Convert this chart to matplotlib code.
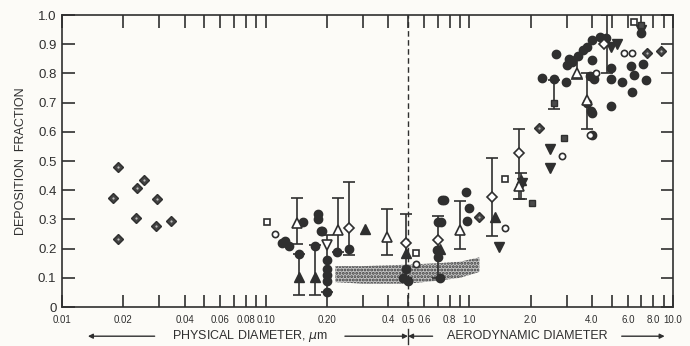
import numpy as np
import matplotlib
matplotlib.use('Agg')
import matplotlib.pyplot as plt

plt.rcParams['font.family'] = ['Liberation Sans', 'DejaVu Sans']

# --- data (x = diameter, um; y = deposition fraction) ---
dotdia_x = [0.0188, 0.0178, 0.0188, 0.0233, 0.0252, 0.0230, 0.0292, 0.0289, 0.0342, 1.12, 2.20, 7.46, 8.72]
dotdia_y = [0.48, 0.375, 0.233, 0.407, 0.435, 0.305, 0.37, 0.277, 0.295, 0.308, 0.613, 0.87, 0.877]

fcirc_x = [0.125, 0.13, 0.12, 0.152, 0.18, 0.18, 0.187, 0.19, 0.174, 0.145,
           0.20, 0.20, 0.20, 0.20, 0.20, 0.225, 0.258, 0.49, 0.47, 0.50,
           0.738, 0.70, 0.73, 0.69, 0.70, 0.72, 0.75, 0.967, 1.0, 0.97,
           2.67, 2.28, 2.61, 2.99, 3.0, 3.1, 3.2, 4.01, 3.9, 4.1, 3.95, 4.0,
           4.97, 4.97, 5.6, 6.3, 7.38, 7.13, 6.2, 6.4, 4.97, 4.0, 3.8,
           3.8, 4.0, 4.4, 4.7, 7.0, 3.4, 3.6]
fcirc_y = [0.225, 0.21, 0.22, 0.29, 0.32, 0.30, 0.26, 0.26, 0.21, 0.18,
           0.16, 0.13, 0.11, 0.09, 0.05, 0.19, 0.20, 0.13, 0.10, 0.09,
           0.366, 0.29, 0.29, 0.195, 0.17, 0.10, 0.366, 0.394, 0.34, 0.295,
           0.866, 0.784, 0.78, 0.77, 0.83, 0.85, 0.84, 0.845, 0.79, 0.78, 0.67, 0.59,
           0.82, 0.78, 0.77, 0.737, 0.777, 0.832, 0.825, 0.795, 0.69, 0.664, 0.70,
           0.89, 0.914, 0.925, 0.92, 0.94, 0.86, 0.88]

ftri_x = [0.145, 0.174, 0.306, 0.49, 0.72, 1.34, 1.80]
ftri_y = [0.104, 0.104, 0.267, 0.185, 0.20, 0.308, 0.435]

finv_x = [1.40, 1.82, 2.49, 2.49, 4.97, 5.3, 7.0]
finv_y = [0.205, 0.425, 0.54, 0.476, 0.89, 0.90, 0.95]

otri_x = [0.143, 0.2254, 0.396, 0.903, 1.76, 3.38, 3.79]
otri_y = [0.289, 0.264, 0.24, 0.264, 0.414, 0.80, 0.71]

odia_x = [0.258, 0.49, 0.705, 1.297, 1.76, 4.6]
odia_y = [0.27, 0.22, 0.23, 0.377, 0.527, 0.90]

osq_x = [0.101, 0.55, 1.50, 6.44]
osq_y = [0.291, 0.185, 0.438, 0.976]

ocirc_x = [0.111, 0.55, 1.50, 2.86, 4.18, 3.9, 5.75, 6.3]
ocirc_y = [0.25, 0.147, 0.27, 0.517, 0.80, 0.59, 0.87, 0.87]

oinv_x = [0.201]
oinv_y = [0.212]

fsq_x = [2.04, 2.92, 2.61, 7.0]
fsq_y = [0.356, 0.58, 0.70, 0.965]

# error bars: x, low, high
bar_x = [0.143, 0.145, 0.174, 0.201, 0.2254, 0.258, 0.396, 0.49, 0.705, 0.903, 1.297, 1.76, 1.79, 2.61, 3.38, 3.79, 4.74]
bar_lo = [0.215, 0.04, 0.04, 0.05, 0.188, 0.178, 0.178, 0.10, 0.10, 0.198, 0.243, 0.37, 0.37, 0.678, 0.78, 0.61, 0.80]
bar_hi = [0.373, 0.18, 0.212, 0.245, 0.373, 0.428, 0.335, 0.32, 0.31, 0.364, 0.51, 0.61, 0.46, 0.777, 0.856, 0.80, 1.0]

# stippled band
band_x = [0.22, 0.3, 0.5, 0.7, 0.9, 1.12]
band_lo = [0.085, 0.08, 0.08, 0.09, 0.10, 0.12]
band_hi = [0.14, 0.14, 0.145, 0.15, 0.155, 0.17]

xticks = [0.01, 0.02, 0.03, 0.04, 0.05, 0.06, 0.07, 0.08, 0.09, 0.1,
          0.2, 0.3, 0.4, 0.5, 0.6, 0.7, 0.8, 0.9, 1.0,
          2, 3, 4, 5, 6, 7, 8, 9, 10]
xlabels = ['0.01', '0.02', '', '0.04', '', '0.06', '', '0.08', '', '0.10',
           '0.20', '', '0.4', '0.5', '0.6', '', '0.8', '', '1.0',
           '2.0', '', '4.0', '', '6.0', '', '8.0', '', '10.0']
yticks = [0, 0.1, 0.2, 0.3, 0.4, 0.5, 0.6, 0.7, 0.8, 0.9, 1.0]
ylabels = ['0', '0.1', '0.2', '0.3', '0.4', '0.5', '0.6', '0.7', '0.8', '0.9', '1.0']

ink = '#2f2f2f'
bg = '#fcfbf7'

fig = plt.figure(figsize=(6.9, 3.46), dpi=100, facecolor=bg)
ax = fig.add_axes([62 / 690, 39 / 346, 611 / 690, 292 / 346], facecolor=bg)
ax.set_xscale('log')
ax.set_xlim(0.01, 10)
ax.set_ylim(0, 1)

plt.rcParams['hatch.linewidth'] = 1.4
ax.fill_between(band_x, band_lo, band_hi, facecolor='#c4c4c4', edgecolor='#3a3a3a',
                hatch='.....', linewidth=0, zorder=1)
ax.axvline(0.5, color=ink, lw=1, ls=(0, (4, 2.5)), zorder=2)

ax.errorbar(bar_x, [(l + h) / 2 for l, h in zip(bar_lo, bar_hi)],
            yerr=[[(h - l) / 2 for l, h in zip(bar_lo, bar_hi)],
                  [(h - l) / 2 for l, h in zip(bar_lo, bar_hi)]],
            fmt='none', ecolor=ink, elinewidth=1.2, capsize=4, capthick=1.2, zorder=3)

ms = 6
ax.plot(fcirc_x, fcirc_y, 'o', ms=ms, color=ink, mec=ink, zorder=4)
ax.plot(ftri_x, ftri_y, '^', ms=ms + 0.5, color=ink, mec=ink, zorder=4)
ax.plot(finv_x, finv_y, 'v', ms=ms + 0.5, color=ink, mec=ink, zorder=4)
ax.plot(fsq_x, fsq_y, 's', ms=ms - 1, color='#4a4a4a', mec=ink, zorder=4)
ax.plot(dotdia_x, dotdia_y, 'D', ms=ms - 1, color='#444444', mec=ink, zorder=4)
ax.plot(dotdia_x, dotdia_y, 'o', ms=1.6, color='#bdbdbd', mec='none', zorder=5)
ax.plot(otri_x, otri_y, '^', ms=ms + 0.5, mfc='white', mec=ink, mew=1.2, zorder=5)
ax.plot(oinv_x, oinv_y, 'v', ms=ms + 0.5, mfc='white', mec=ink, mew=1.2, zorder=5)
ax.plot(odia_x, odia_y, 'D', ms=ms - 1, mfc='white', mec=ink, mew=1.2, zorder=5)
ax.plot(osq_x, osq_y, 's', ms=ms - 1.5, mfc='white', mec=ink, mew=1.2, zorder=5)
ax.plot(ocirc_x, ocirc_y, 'o', ms=ms - 1.5, mfc='white', mec=ink, mew=1.2, zorder=5)

ax.xaxis.set_major_locator(matplotlib.ticker.FixedLocator(xticks))
ax.xaxis.set_major_formatter(matplotlib.ticker.FixedFormatter(xlabels))
ax.xaxis.set_minor_locator(matplotlib.ticker.NullLocator())
ax.set_yticks(yticks)
ax.set_yticklabels(ylabels)
ax.tick_params(axis='both', direction='in', length=9, width=1.2, color=ink,
               top=True, right=True, labelcolor=ink)
ax.tick_params(axis='x', labelsize=7, pad=6)
ax.tick_params(axis='y', labelsize=9.5, pad=4)
for s in ax.spines.values():
    s.set_color(ink)
    s.set_linewidth(1.2)

ax.set_ylabel('DEPOSITION  FRACTION', fontsize=9, color=ink, labelpad=8)

# bottom labels with arrows
tr = ax.get_xaxis_transform()
ya = -0.10
ap = dict(arrowstyle='-|>', lw=1, color=ink, mutation_scale=7, shrinkA=0, shrinkB=0)
ax.annotate('', xy=(0.0134, ya), xytext=(0.0285, ya), xycoords=tr, textcoords=tr, arrowprops=ap)
ax.text(0.084, ya, 'PHYSICAL DIAMETER, $\\mu$m', transform=tr, ha='center', va='center',
        fontsize=9, color=ink)
ax.annotate('', xy=(0.5, ya), xytext=(0.245, ya), xycoords=tr, textcoords=tr, arrowprops=ap)
ax.annotate('', xy=(0.5, ya), xytext=(0.66, ya), xycoords=tr, textcoords=tr, arrowprops=ap)
ax.plot([0.5, 0.5], [ya + 0.025, ya - 0.025], color=ink, lw=1, transform=tr, clip_on=False)
ax.text(1.93, ya, 'AERODYNAMIC DIAMETER', transform=tr, ha='center', va='center',
        fontsize=9, color=ink)
ax.annotate('', xy=(9.1, ya), xytext=(5.6, ya), xycoords=tr, textcoords=tr, arrowprops=ap)

fig.savefig('out.png', dpi=100, facecolor=bg)
